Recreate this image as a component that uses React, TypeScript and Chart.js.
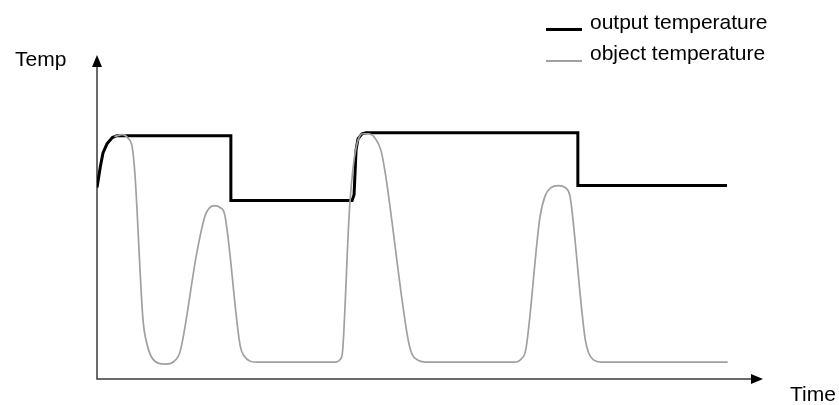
import { useEffect, useRef } from 'react';
import { Chart, registerables } from 'chart.js';

Chart.register(...registerables);

// Time / temperature samples (both axes 0-100, unitless)
const outputTime = [0, 0.5, 0.9, 1.5, 2.3, 3.0, 20.1, 20.1, 38.3, 38.6, 38.9, 39.2, 39.8, 40.4, 72.2, 72.2, 94.6];
const outputTemp = [59.1, 65.5, 69.8, 72.6, 74.5, 75.1, 75.1, 55.1, 55.1, 56.9, 70.8, 74.2, 75.7, 76.0, 76.0, 59.7, 59.7];

const objectTime = [
  2.6, 3.8, 4.7, 5.3, 5.7, 6.9, 7.5, 8.1, 9.2, 10.4, 11.6, 12.5, 15.0, 16.2, 16.8, 17.6, 18.5, 19.2,
  21.5, 22.1, 23.0, 24.2, 35.7, 36.6, 36.9, 37.9, 38.6, 39.2, 39.9, 40.7, 41.7, 42.6, 43.2, 46.7,
  47.3, 48.2, 49.4, 62.6, 63.7, 64.4, 66.5, 67.3, 68.2, 69.2, 70.3, 71.0, 71.3, 73.3, 73.9, 74.6,
  75.7, 94.7,
];
const objectTemp = [
  74.8, 75.4, 74.2, 71.4, 63.1, 18.5, 10.8, 7.1, 4.9, 4.6, 5.5, 8.6, 39.1, 50.2, 52.6, 53.5, 52.9, 50.5,
  10.2, 7.1, 5.5, 5.2, 5.2, 6.2, 9.2, 52.0, 67.7, 73.8, 75.7, 75.7, 74.5, 70.8, 64.6, 12.3,
  7.7, 5.8, 5.2, 5.2, 6.2, 9.2, 49.8, 56.6, 59.1, 59.7, 59.1, 56.6, 52.3, 12.3, 7.7, 5.8,
  5.2, 5.2,
];

const seriesNames = ['output temperature', 'object temperature'];
const axisNames = ['Temp', 'Time'];

// Draws the two axis lines with arrow heads at the ends of the chart area
const arrowAxes = {
  id: 'arrowAxes',
  beforeDatasetsDraw: (chart: any) => {
    const { ctx, chartArea } = chart;
    const { left, right, top, bottom } = chartArea;
    ctx.save();
    ctx.strokeStyle = '#3a3a3a';
    ctx.fillStyle = '#000';
    ctx.lineWidth = 1.5;
    ctx.beginPath();
    ctx.moveTo(left, top + 8);
    ctx.lineTo(left, bottom);
    ctx.lineTo(right - 8, bottom);
    ctx.stroke();
    // y arrow
    ctx.beginPath();
    ctx.moveTo(left, top);
    ctx.lineTo(left - 5, top + 12);
    ctx.lineTo(left + 5, top + 12);
    ctx.closePath();
    ctx.fill();
    // x arrow
    ctx.beginPath();
    ctx.moveTo(right, bottom);
    ctx.lineTo(right - 12, bottom - 5);
    ctx.lineTo(right - 12, bottom + 5);
    ctx.closePath();
    ctx.fill();
    ctx.restore();
  },
};

const textStyle = {
  position: 'absolute' as const,
  fontFamily: '"Liberation Sans", Arial, sans-serif',
  fontSize: 21,
  lineHeight: '21px',
  color: '#000',
  whiteSpace: 'nowrap' as const,
};

const TemperatureChart = () => {
  const chartRef = useRef<HTMLCanvasElement>(null);
  const chartInstance = useRef<Chart | null>(null);

  useEffect(() => {
    if (!chartRef.current) return;
    if (chartInstance.current) chartInstance.current.destroy();

    const outputData = outputTime.map((t, i) => ({ x: t, y: outputTemp[i] }));
    const objectData = objectTime.map((t, i) => ({ x: t, y: objectTemp[i] }));

    chartInstance.current = new Chart(chartRef.current, {
      type: 'line',
      plugins: [arrowAxes],
      data: {
        datasets: [
          {
            label: seriesNames[1],
            data: objectData,
            borderColor: '#a0a0a0',
            borderWidth: 1.7,
            pointRadius: 0,
            cubicInterpolationMode: 'monotone',
          },
          {
            label: seriesNames[0],
            data: outputData,
            borderColor: '#000000',
            borderWidth: 3,
            pointRadius: 0,
            tension: 0,
          },
        ],
      },
      options: {
        responsive: false,
        animation: false,
        layout: { padding: { left: 97, right: 76, top: 55, bottom: 26 } },
        plugins: {
          legend: { display: false },
          tooltip: { enabled: false },
        },
        scales: {
          x: { type: 'linear', min: 0, max: 100, display: false },
          y: { min: 0, max: 100, display: false },
        },
      },
    });

    return () => {
      if (chartInstance.current) {
        chartInstance.current.destroy();
        chartInstance.current = null;
      }
    };
  }, []);

  return (
    <div style={{ position: 'absolute', left: 0, top: 0, width: 839, height: 405, background: '#fff' }}>
      <canvas ref={chartRef} width={839} height={405}></canvas>
      <div style={{ ...textStyle, left: 15, top: 48 }}>{axisNames[0]}</div>
      <div style={{ ...textStyle, left: 790, top: 383 }}>{axisNames[1]}</div>
      <div style={{ position: 'absolute', left: 546, top: 28, width: 36, height: 3, background: '#000' }}></div>
      <div style={{ ...textStyle, left: 590, top: 11 }}>{seriesNames[0]}</div>
      <div style={{ position: 'absolute', left: 546, top: 60, width: 36, height: 2, background: '#a0a0a0' }}></div>
      <div style={{ ...textStyle, left: 590, top: 42 }}>{seriesNames[1]}</div>
    </div>
  );
};

export default function App() {
  return <TemperatureChart />;
}
